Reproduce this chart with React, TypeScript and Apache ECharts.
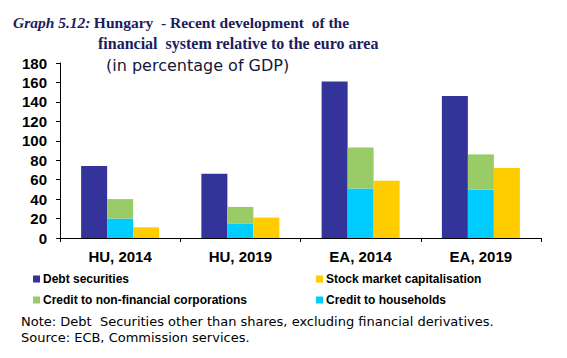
import React, { useEffect, useRef } from "react";
import * as echarts from "echarts";

const categories = ["HU, 2014", "HU, 2019", "EA, 2014", "EA, 2019"];
const debtSecurities = [74, 66, 161, 146];
const creditHouseholds = [20, 15, 51, 50];
const creditNFC = [20, 17, 42, 36];
const stockMarket = [11, 21, 59, 72];
const yTicks = { min: 0, max: 180, interval: 20 };

const C_DEBT = "#333399";
const C_NFC = "#99cc66";
const C_HH = "#00ccff";
const C_STOCK = "#ffcc00";
const NAVY = "#1c1c60";
const SANS = "'Liberation Sans', Arial, sans-serif";
const WIDE = "'DejaVu Sans', 'Liberation Sans', sans-serif";
const SERIF = "'Liberation Serif', 'Times New Roman', serif";

export default function App() {
  const ref = useRef<HTMLDivElement>(null);
  useEffect(() => {
    document.body.style.margin = "0";
    if (!ref.current) return;
    const chart = echarts.init(ref.current, undefined, { renderer: "svg" });
    const legendText = { fontFamily: SANS, fontWeight: "bold", fontSize: 12, color: "#000", padding: [0, 0, 0, -2] };
    chart.setOption({
      animation: false,
      backgroundColor: "#fff",
      grid: { left: 60, right: 26, top: 63, bottom: 120, containLabel: false },
      legend: [
        {
          data: ["Debt securities", "Credit to non-financial corporations"],
          orient: "vertical",
          left: 28,
          top: 268,
          itemWidth: 7,
          itemHeight: 7,
          itemGap: 9,
          icon: "rect",
          textStyle: legendText,
          selectedMode: false,
        },
        {
          data: ["Stock market capitalisation", "Credit to households"],
          orient: "vertical",
          left: 311,
          top: 268,
          itemWidth: 7,
          itemHeight: 7,
          itemGap: 9,
          icon: "rect",
          textStyle: legendText,
          selectedMode: false,
        },
      ],
      xAxis: {
        type: "category",
        data: categories,
        axisLine: { lineStyle: { color: "#000", width: 1 } },
        axisTick: { show: true, length: 4, lineStyle: { color: "#000" } },
        axisLabel: { fontFamily: SANS, fontWeight: "bold", fontSize: 15, color: "#000", margin: 11 },
      },
      yAxis: {
        type: "value",
        min: yTicks.min,
        max: yTicks.max,
        interval: yTicks.interval,
        axisLine: { show: true, lineStyle: { color: "#000", width: 1 } },
        axisTick: { show: true, length: 4, lineStyle: { color: "#000" } },
        splitLine: { show: false },
        axisLabel: { fontFamily: SANS, fontWeight: "bold", fontSize: 15, color: "#000", margin: 13 },
      },
      series: [
        { name: "Debt securities", type: "bar", data: debtSecurities, barWidth: 26, barGap: "0%", itemStyle: { color: C_DEBT } },
        { name: "Credit to households", type: "bar", stack: "credit", data: creditHouseholds, barWidth: 26, barGap: "0%", itemStyle: { color: C_HH } },
        { name: "Credit to non-financial corporations", type: "bar", stack: "credit", data: creditNFC, barWidth: 26, barGap: "0%", itemStyle: { color: C_NFC } },
        { name: "Stock market capitalisation", type: "bar", data: stockMarket, barWidth: 26, barGap: "0%", itemStyle: { color: C_STOCK } },
      ],
      graphic: [
        {
          type: "text",
          left: 13,
          top: 14,
          style: {
            text: "{i|Graph 5.12:} {b|Hungary  - Recent development  of the}",
            rich: {
              i: { fontFamily: SERIF, fontStyle: "italic", fontWeight: "bold", fontSize: 15.5, fill: NAVY },
              b: { fontFamily: SERIF, fontWeight: "bold", fontSize: 15.5, fill: NAVY },
            },
          },
        },
        {
          type: "text",
          left: 98,
          top: 35,
          style: { text: "financial  system relative to the euro area", fontFamily: SERIF, fontWeight: "bold", fontSize: 16, fill: NAVY },
        },
        {
          type: "text",
          left: 106,
          top: 57,
          style: { text: "(in percentage of GDP)", fontFamily: WIDE, fontSize: 16, fill: "#16163a" },
        },
        {
          type: "text",
          left: 21,
          top: 315,
          style: { text: "Note: Debt  Securities other than shares, excluding financial derivatives.", fontFamily: WIDE, fontSize: 13, fill: "#000" },
        },
        {
          type: "text",
          left: 21,
          top: 331,
          style: { text: "Source: ECB, Commission services.", fontFamily: WIDE, fontSize: 13, fill: "#000" },
        },
      ],
    });
    return () => chart.dispose();
  }, []);
  return <div ref={ref} style={{ width: 567, height: 358 }} />;
}
